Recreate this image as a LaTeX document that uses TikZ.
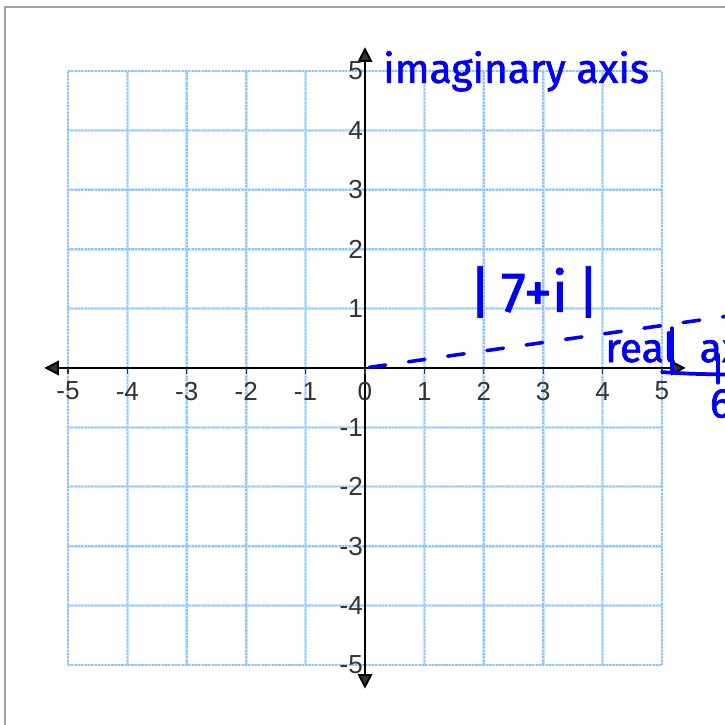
\documentclass[tikz,border=0pt]{standalone}
\usepackage{fontspec}
\setmainfont{Liberation Sans}
\newfontfamily\handfont{Fira Sans}[FakeBold=1.5]
\usetikzlibrary{arrows.meta}
\definecolor{gridblue}{RGB}{140,195,250}
\definecolor{gridlight}{RGB}{200,228,255}
\definecolor{numgray}{RGB}{51,51,51}
\definecolor{framegray}{RGB}{160,160,160}
\definecolor{penblue}{RGB}{0,0,245}
\tikzset{
  gridline/.style={gridblue, line width=0.7pt, dash pattern=on 1pt off 0.6pt},
  gridback/.style={gridlight, line width=1.3pt},
  axis/.style={black, line width=0.9pt, {Triangle[length=7pt,width=7pt,fill=numgray]}-{Triangle[length=7pt,width=7pt,fill=numgray]}},
  numlab/.style={text=numgray, font=\fontsize{12.5}{14}\selectfont, inner sep=0pt},
  handtext/.style={text=penblue, font=\handfont\fontsize{19.5}{23}\selectfont, inner sep=0pt},
  pen/.style={penblue, line width=1.8pt, line cap=round},
}
\begin{document}
\begin{tikzpicture}
\useasboundingbox (-6.145,-6.010) rectangle (6.061,6.195);
\clip (-6.145,-6.010) rectangle (6.061,6.195);
% frame
\draw[framegray, line width=1pt] (-6.06,-7) -- (-6.06,6.08) -- (7,6.08);
% grid
\draw[gridback] (-5,-5) grid (5,5);
\draw[gridline] (-5,-5) grid (5,5);
% axes
\coordinate (xl) at (-5.4,0);
\coordinate (xr) at (5.4,0);
\coordinate (yb) at (0,-5.4);
\coordinate (yt) at (0,5.4);
\coordinate (o) at (0,0);
\draw[axis] (xl) -- (xr);
\draw[axis] (yb) -- (yt);
% ticks and labels
\foreach \x in {-5,...,5} {
  \draw[numgray, line width=0.6pt] (\x,0) -- (\x,-0.1);
  \node[numlab] (xl\x) at (\x,-0.39) {\x};
}
\foreach \y in {-5,...,-1,1,2,...,5} {
  \node[numlab, anchor=east] (yl\y) at (-0.03,\y) {\y};
}
% dashed line to 7+i
\coordinate (p) at (7,1);
\draw[pen, line width=1.7pt, dash pattern=on 8pt off 11pt, dash phase=-2pt] (o) -- (p);
% hand texts
\node[handtext, anchor=base west] (im) at (0.3,4.8) {imaginary axis};
\node[handtext, anchor=base west] (re) at (4.04,0.1) {real\hspace{0.6em}axis};
\node[text=penblue, font=\handfont\fontsize{27}{30}\selectfont, inner sep=0pt] (mod) at (2.85,1.28) {|\,7+i\,|};
\node[text=penblue, font=\handfont\fontsize{20}{24}\selectfont, inner sep=0pt, anchor=west] (six) at (5.8,-0.6) {6};
% hand strokes
\coordinate (s1) at (5.0,-0.07);
\coordinate (s2) at (6.1,-0.11);
\draw[pen] (s1) .. controls (5.5,-0.1) .. (s2);
\coordinate (v1) at (5.17,0.67);
\coordinate (v2) at (5.17,-0.03);
\draw[pen] (v1) -- (v2);
\coordinate (t1) at (5.94,0.22);
\coordinate (t2) at (5.94,-0.25);
\draw[pen] (t1) -- (t2);
\end{tikzpicture}
\end{document}
